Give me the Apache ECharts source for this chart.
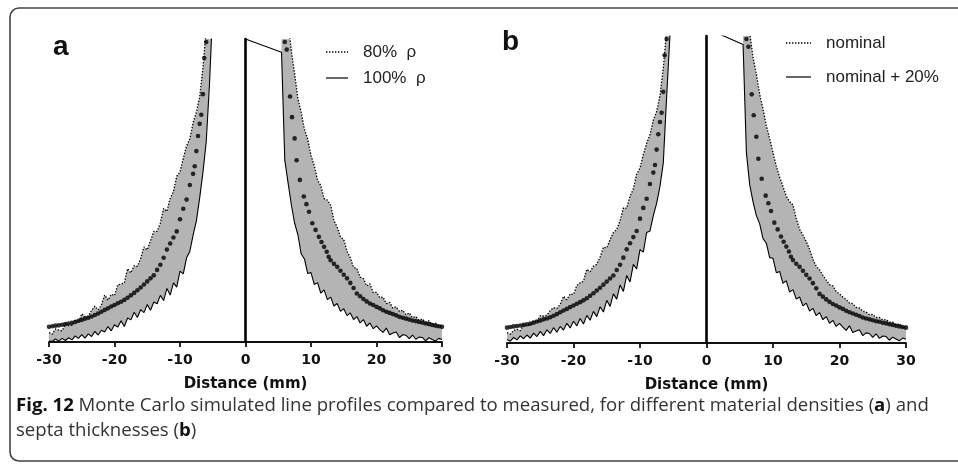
<!DOCTYPE html>
<html><head><meta charset="utf-8">
<script src="https://cdn.jsdelivr.net/npm/echarts@6/dist/echarts.min.js"></script>
<style>html,body{margin:0;padding:0;background:#fff}#c{width:958px;height:465px}</style>
</head><body><div id="c"></div>
<script>
// ---------- data ----------
const xTicks = [-30, -20, -10, 0, 10, 20, 30];
const xLeft = [-30,-29.5,-29,-28.5,-28,-27.5,-27,-26.5,-26,-25.5,-25,-24.5,-24,-23.5,-23,-22.5,-22,-21.5,-21,-20.5,-20,-19.5,-19,-18.5,-18,-17.5,-17,-16.5,-16,-15.5,-15,-14.5,-14,-13.5,-13,-12.5,-12,-11.5,-11,-10.5,-10,-9.5,-9,-8.5,-8,-7.5,-7,-6.5,-6,-5.5,-5];
const xRight = [5.5,6,6.5,7,7.5,8,8.5,9,9.5,10,10.5,11,11.5,12,12.5,13,13.5,14,14.5,15,15.5,16,16.5,17,17.5,18,18.5,19,19.5,20,20.5,21,21.5,22,22.5,23,23.5,24,24.5,25,25.5,26,26.5,27,27.5,28,28.5,29,29.5,30];
const xRightLower = [0].concat(xRight);

// panel a : 80% rho (dotted) and 100% rho (solid)
const a80Left = [3.1,2.6,4.3,3.9,3.7,6.0,5.4,5.6,7.2,6.4,9.3,8.4,8.5,10.4,11.8,10.6,12.2,15.5,13.8,15.7,15.3,18.9,19.1,19.5,24.2,22.8,25.2,25.0,27.6,31.4,30.4,33.4,36.5,36.5,39.2,44.1,43.1,47.4,49.6,54.7,56.1,60.6,64.7,67.0,72.3,75.8,80.8,90.5,103,118,140];
const a100Left = [0.3,0.2,1.0,0.3,1.2,0.5,1.4,0.7,2.0,1.2,2.4,1.3,2.7,1.8,3.5,2.3,3.9,3.3,5.1,3.7,5.7,4.9,7.0,5.1,7.9,7.3,9.8,8.1,10.7,9.7,12.4,10.5,13.2,12.6,15.4,13.7,17.7,15.5,19.5,18.1,23.4,22.5,27.8,29.9,35.3,40,47.5,56,66,85,110];
const a80Right = [140,120,106,96,88.5,80.3,75.8,70.2,66.9,61.5,58.2,53.4,51.6,47.3,46.8,45.2,40.1,37.9,34.7,33.8,29.9,27.8,24.6,24.3,21.4,20.9,18.5,19.2,16.3,16.4,14.6,14.8,12.7,13.1,11.2,11.6,10.1,10.5,9.0,9.6,8.0,8.4,7.2,7.6,6.5,7.0,5.9,6.2,5.3,5.6];
const a100Right = [100,95.6,60,52.5,45.3,39.2,35.4,29.1,27.4,22.6,22.9,19.0,19.6,16.1,17.2,14.0,14.8,11.9,12.7,10.1,11.0,8.7,9.6,7.4,8.4,6.3,7.4,5.2,6.3,4.4,5.3,4.1,3.2,4.6,2.4,3.0,3.3,1.5,2.4,2.2,1.1,2.3,0.9,1.6,1.5,0.4,1.4,0.8,0.3,1.2,0.8];

// panel b : nominal (dotted) and nominal + 20% (solid)
const bNomLeft = [3.4,2.9,4.1,4.4,4.0,5.9,5.6,6.0,7.4,6.8,8.9,8.8,9.0,10.6,11.5,11.2,12.6,15.2,14.1,16.0,15.8,18.7,19.6,20.1,24.0,23.2,25.0,25.6,28.0,31.2,31.0,33.6,36.0,37.0,39.8,44.0,43.9,47.8,50.2,55.0,57.0,61.4,65.0,67.8,72.6,75.4,80.5,89.5,102,117,138];
const bPlusLeft = [1.1,0.6,1.8,1.0,2.3,1.4,2.6,1.6,3.2,2.1,3.8,2.4,4.3,3.1,5.0,3.5,5.4,4.2,6.4,4.9,7.1,5.6,8.0,6.2,9.0,7.4,10.3,8.6,11.8,10.1,13.9,11.9,16.0,14.3,18.9,16.8,22.0,19.9,25.6,24.1,30.4,29.6,36.0,36.5,41.5,45.5,51,58.6,80,100,125];
const bNomRight = [140,118,101,93,87.5,81.0,76.2,70.8,66.5,62.0,57.6,54.0,51.0,47.8,46.0,45.0,40.5,37.0,35.2,33.0,30.5,27.2,25.0,23.8,22.0,20.5,19.0,18.6,16.8,16.0,15.0,14.2,13.0,12.8,11.6,11.4,10.3,10.1,9.2,9.3,8.3,8.3,7.5,7.6,6.8,6.8,6.0,6.2,5.2,5.5];
const bPlusRight = [102.5,97.2,62,51.5,46.0,41.5,38.8,34.0,32.5,27.8,27.6,22.9,23.3,19.4,20.3,16.6,17.4,14.3,15.0,12.1,13.0,10.4,11.3,8.9,9.9,7.6,8.6,6.4,7.4,5.4,6.4,5.2,4.1,5.6,3.4,3.9,4.3,2.4,3.3,3.1,1.8,3.0,1.5,2.3,2.1,0.9,1.9,1.3,0.7,1.6,1.2];

// measured profile (dots), same in both panels
const measuredLeft = [[-30,5.0],[-29.5,5.2],[-29,5.4],[-28.5,5.5],[-28,5.7],[-27.5,5.9],[-27,6.1],[-26.5,6.3],[-26,6.6],[-25.5,7.0],[-25,7.3],[-24.5,7.7],[-24,8.0],[-23.5,8.4],[-23,8.9],[-22.5,9.4],[-22,10.0],[-21.5,10.6],[-21,11.1],[-20.5,11.7],[-20,12.2],[-19.5,12.8],[-19,13.3],[-18.5,13.9],[-18,14.6],[-17.5,15.4],[-17,16.2],[-16.5,17.1],[-16,18.0],[-15.5,19.0],[-15,20.0],[-14.5,21.0],[-14,22.0],[-13.5,23.8],[-13,25.5],[-12.5,27.8],[-12,30.5],[-11.5,32.5],[-11,34.5],[-10.5,36.5],[-10,40.5],[-9.5,44],[-9,47],[-8.5,51.8],[-8,55.5],[-7.75,58],[-7.5,63],[-7.25,68],[-7,72],[-6.75,75],[-6.5,81.8],[-6.3,93.7],[-6.0,99]];
const measuredRight = [[6.0,99],[6.3,96.5],[6.8,81],[7.1,74.2],[7.5,67.2],[7.8,60],[8.3,53.5],[8.9,48],[9.3,45.5],[9.7,43],[10.2,39.2],[10.7,37],[11.2,34.7],[11.6,33],[12.0,31.4],[12.4,29.8],[12.7,28.1],[13.0,27],[13.5,25.8],[14.0,24.8],[14.5,23.5],[15.0,22.2],[15.5,21],[16.0,19.5],[16.5,17.8],[17.0,16],[17.5,15.1],[18.0,14.2],[18.5,13.4],[19.0,12.7],[19.5,12.2],[20.0,11.6],[20.5,11.1],[21.0,10.5],[21.5,10.0],[22.0,9.6],[22.5,9.2],[23.0,8.8],[23.5,8.3],[24.0,8.0],[24.5,7.7],[25.0,7.4],[25.5,7.1],[26.0,6.9],[26.5,6.6],[27.0,6.4],[27.5,6.1],[28.0,5.9],[28.5,5.6],[29.0,5.4],[29.5,5.2],[30.0,5.0]];

const legendA = ['80%  \u03c1', '100%  \u03c1'];
const legendB = ['nominal', 'nominal + 20%'];
const panelLabels = ['a', 'b'];
const axisTitle = 'Distance (mm)';

// ---------- helpers ----------
const zip = (xs, ys) => xs.map((x, i) => [x, ys[i]]);
const GRAY = '#b4b4b4';
const DOT_DASH = [1.4, 1.6];

function band(idx, ux, uy, lx, ly) {
  return {
    type: 'custom', xAxisIndex: idx, yAxisIndex: idx, clip: true, silent: true, z: 1,
    data: [0],
    renderItem(params, api) {
      const pts = [];
      const x0 = ux[0];
      for (let i = 0; i < ux.length; i++) pts.push(api.coord([ux[i], uy[i]]));
      for (let i = lx.length - 1; i >= 0; i--) {
        if (ux[0] > 0 && lx[i] < x0) continue;
        pts.push(api.coord([lx[i], ly[i]]));
      }
      const cs = params.coordSys;
      return {
        type: 'group',
        clipPath: { type: 'rect', shape: { x: cs.x, y: cs.y, width: cs.width, height: cs.height } },
        children: [{ type: 'polygon', shape: { points: pts }, style: { fill: GRAY, stroke: null } }]
      };
    }
  };
}
function line(idx, name, data, dotted) {
  return {
    type: 'line', name, xAxisIndex: idx, yAxisIndex: idx, data, symbol: 'none', showSymbol: false,
    clip: true, z: 3, silent: true, animation: false,
    lineStyle: { color: '#000', width: dotted ? 1.3 : 1.1, type: dotted ? DOT_DASH : 'solid' },
    itemStyle: { color: '#000' }
  };
}
function dots(idx, data) {
  return {
    type: 'scatter', xAxisIndex: idx, yAxisIndex: idx, data, symbol: 'circle', symbolSize: 4.6,
    itemStyle: { color: '#000' }, clip: true, z: 4, silent: true
  };
}
function xAx(idx) {
  return {
    gridIndex: idx, type: 'value', min: xTicks[0], max: xTicks[xTicks.length - 1], interval: 10,
    axisLine: { onZero: false, lineStyle: { color: '#111', width: 1.8 } },
    axisTick: { length: 5, lineStyle: { color: '#111', width: 1.8 } },
    axisLabel: { color: '#111', fontFamily: 'DejaVu Sans', fontWeight: 'bold', fontSize: 14, margin: 11 },
    splitLine: { show: false },
    name: axisTitle, nameLocation: 'middle', nameGap: 35,
    nameTextStyle: { color: '#111', fontFamily: 'DejaVu Sans', fontWeight: 'bold', fontSize: 15 }
  };
}
function yAx(idx) {
  return {
    gridIndex: idx, type: 'value', min: 0, max: 100,
    axisLine: { show: true, onZero: true, lineStyle: { color: '#000', width: 2.6 } },
    axisTick: { show: false }, axisLabel: { show: false }, splitLine: { show: false }, z: 10
  };
}
function legendItem(x1, x2, y, label, dotted) {
  return [
    { type: 'line', shape: { x1, y1: y, x2, y2: y }, silent: true,
      style: { stroke: '#000', lineWidth: dotted ? 1.3 : 1.2, lineDash: dotted ? DOT_DASH : null } },
    { type: 'text', x: x2 + 15, y, silent: true,
      style: { text: label, font: '17px "Liberation Sans"', fill: '#222', verticalAlign: 'middle' } }
  ];
}

const chart = echarts.init(document.getElementById('c'), null, { renderer: 'canvas' });
chart.setOption({
  animation: false,
  backgroundColor: '#fff',
  grid: [
    { left: 49, top: 39, width: 393, height: 303 },
    { left: 507, top: 36, width: 399, height: 307 }
  ],
  xAxis: [xAx(0), xAx(1)],
  yAxis: [yAx(0), yAx(1)],
  series: [
    band(0, xLeft, a80Left, xLeft, a100Left),
    band(0, xRight, a80Right, xRightLower, a100Right),
    line(0, legendA[0], zip(xLeft, a80Left), true),
    line(0, legendA[0], zip(xRight, a80Right), true),
    line(0, legendA[1], zip(xLeft, a100Left), false),
    line(0, legendA[1], zip(xRightLower, a100Right), false),
    dots(0, measuredLeft), dots(0, measuredRight),
    band(1, xLeft, bNomLeft, xLeft, bPlusLeft),
    band(1, xRight, bNomRight, xRightLower, bPlusRight),
    line(1, legendB[0], zip(xLeft, bNomLeft), true),
    line(1, legendB[0], zip(xRight, bNomRight), true),
    line(1, legendB[1], zip(xLeft, bPlusLeft), false),
    line(1, legendB[1], zip(xRightLower, bPlusRight), false),
    dots(1, measuredLeft), dots(1, measuredRight)
  ],
  graphic: [
    { type: 'rect', shape: { x: 10, y: 8, width: 1000, height: 453, r: 9 }, style: { fill: 'none', stroke: '#444', lineWidth: 1.6 }, silent: true },
    { type: 'text', left: 53, top: 33, style: { text: panelLabels[0], font: 'bold 28px "Liberation Sans"', fill: '#111' } },
    { type: 'text', left: 502, top: 28, style: { text: panelLabels[1], font: 'bold 28px "Liberation Sans"', fill: '#111' } },
    ...legendItem(326, 348, 52, legendA[0], true),
    ...legendItem(326, 348, 78, legendA[1], false),
    ...legendItem(786, 811, 43, legendB[0], true),
    ...legendItem(786, 811, 77, legendB[1], false),
    { type: 'text', left: 16, top: 393, style: {
        text: '{b|Fig. 12} Monte Carlo simulated line profiles compared to measured, for different material densities ({b|a}) and\nsepta thicknesses ({b|b})',
        font: '18.6px "Open Sans"', fill: '#333', lineHeight: 25,
        rich: { b: { fontFamily: 'Open Sans', fontWeight: 'bold', fontSize: 18.6, fill: '#111', lineHeight: 25 } }
      } }
  ]
});
</script></body></html>
